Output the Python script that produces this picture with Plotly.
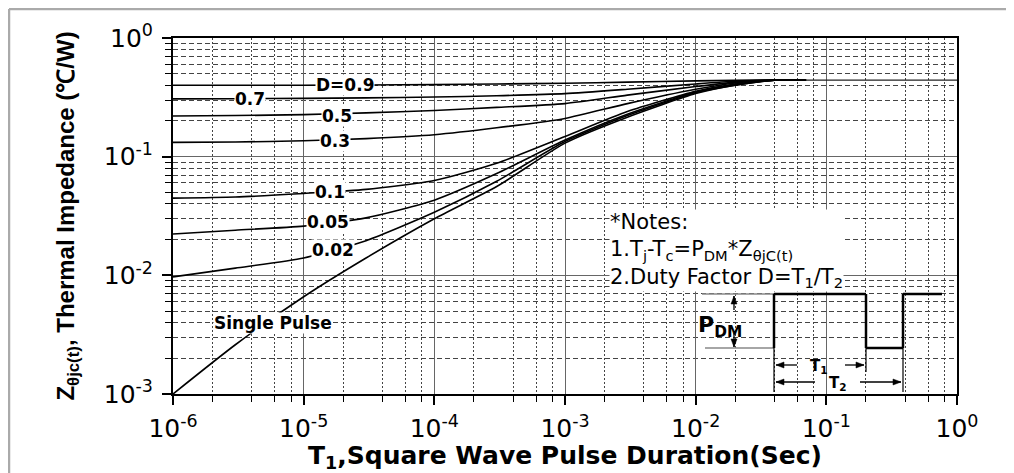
import plotly.graph_objects as go

# ---------------- data ----------------
T = [1e-6, 3e-6, 1e-5, 3e-5, 1e-4, 3e-4, 1e-3, 3e-3, 1e-2, 2e-2, 4e-2, 7e-2]
D09 = [0.400, 0.400, 0.400, 0.402, 0.405, 0.410, 0.415, 0.425, 0.435, 0.440, 0.442, 0.442]
D07 = [0.307, 0.308, 0.310, 0.313, 0.318, 0.326, 0.340, 0.370, 0.410, 0.432, 0.442, 0.442]
D05 = [0.220, 0.222, 0.226, 0.234, 0.245, 0.260, 0.280, 0.330, 0.390, 0.425, 0.442, 0.442]
D03 = [0.132, 0.133, 0.136, 0.142, 0.153, 0.175, 0.210, 0.280, 0.370, 0.418, 0.442, 0.442]
D01 = [0.0447, 0.0457, 0.049, 0.053, 0.063, 0.088, 0.148, 0.240, 0.355, 0.410, 0.440, 0.442]
D005 = [0.0223, 0.024, 0.026, 0.0305, 0.043, 0.072, 0.138, 0.228, 0.350, 0.405, 0.440, 0.442]
D002 = [0.0097, 0.0115, 0.014, 0.0196, 0.034, 0.062, 0.134, 0.222, 0.345, 0.400, 0.440, 0.442]
SINGLE = [0.001, 0.0026, 0.0066, 0.0140, 0.030, 0.056, 0.130, 0.215, 0.340, 0.400, 0.440, 0.442]
TAIL_T = [7e-2, 1.0]
TAIL_Z = [0.442, 0.442]

SERIES = [("D=0.9", D09), ("0.7", D07), ("0.5", D05), ("0.3", D03),
          ("0.1", D01), ("0.05", D005), ("0.02", D002), ("Single Pulse", SINGLE)]

X_TICKS = [1e-6, 1e-5, 1e-4, 1e-3, 1e-2, 1e-1, 1.0]
X_TICKTEXT = ["10<sup>-6</sup>", "10<sup>-5</sup>", "10<sup>-4</sup>", "10<sup>-3</sup>",
              "10<sup>-2</sup>", "10<sup>-1</sup>", "10<sup>0</sup>"]
Y_TICKS = [1e-3, 1e-2, 1e-1, 1.0]
Y_TICKTEXT = ["10<sup>-3</sup>", "10<sup>-2</sup>", "10<sup>-1</sup>", "10<sup>0</sup>"]
X_MINOR = [m * d for d in [1e-6, 1e-5, 1e-4, 1e-3, 1e-2, 1e-1] for m in (2, 4, 6, 8)]
Y_MINOR = [m * d for d in [1e-3, 1e-2, 1e-1] for m in range(2, 10)]

# ---------------- layout geometry (page pixels; page body has an 8px offset) ----------------
OFF = 8
PAGE_W, PAGE_H = 1014, 473
W, H = PAGE_W - OFF, PAGE_H - OFF
L, R, TOP, BOT = 173, 957, 38, 394   # plot area in page pixels


def px(x):
    return (x - L) / (R - L)


def py(y):
    return (BOT - y) / (BOT - TOP)


fig = go.Figure()
for name, vals in SERIES:
    fig.add_trace(go.Scatter(x=T, y=vals, mode="lines", name=name,
                             line=dict(color="black", width=1.6, shape="spline", smoothing=0.6),
                             showlegend=False, hoverinfo="skip"))
fig.add_trace(go.Scatter(x=TAIL_T, y=TAIL_Z, mode="lines", line=dict(color="#222", width=1.2),
                         showlegend=False, hoverinfo="skip"))

tickfont = dict(family="DejaVu Sans", size=25, color="black")

fig.update_layout(
    width=W, height=H,
    margin=dict(l=L - OFF, r=PAGE_W - R, t=TOP - OFF, b=PAGE_H - BOT, pad=0, autoexpand=False),
    paper_bgcolor="white", plot_bgcolor="white",
    showlegend=False,
    xaxis=dict(type="log", range=[-6, 0], tickmode="array", tickvals=X_TICKS, ticktext=X_TICKTEXT,
               automargin=False,
               ticks="outside", ticklen=9, tickwidth=1.5, tickcolor="black",
               showline=True, linewidth=2, linecolor="black", mirror=True, zeroline=False,
               showgrid=True, gridcolor="#666", gridwidth=1,
               minor=dict(tickvals=X_MINOR, ticks="outside", ticklen=6, tickwidth=1, tickcolor="black",
                          showgrid=True, gridcolor="#444", gridwidth=1, griddash="2px,2px"),
               tickfont=tickfont, ticklabelstandoff=2,
               title=dict(text="<b>T<sub>1</sub>,Square Wave Pulse Duration(Sec)</b>",
                          font=dict(family="DejaVu Sans", size=25, color="black"), standoff=8)),
    yaxis=dict(type="log", range=[-3, 0], tickmode="array", tickvals=Y_TICKS, ticktext=Y_TICKTEXT,
               automargin=False,
               ticks="outside", ticklen=9, tickwidth=1.5, tickcolor="black",
               showline=True, linewidth=2, linecolor="black", mirror=True, zeroline=False,
               showgrid=True, gridcolor="#666", gridwidth=1,
               minor=dict(tickvals=Y_MINOR, ticks="outside", ticklen=6, tickwidth=1, tickcolor="black",
                          showgrid=True, gridcolor="#444", gridwidth=1, griddash="5px,3px"),
               tickfont=tickfont, ticklabelstandoff=4,
               title=dict(text="<b>Z<sub>θjc(t)</sub>, Thermal Impedance (℃/W)</b>",
                          font=dict(family="Liberation Sans", size=24, color="black"), standoff=22)),
)

# curve labels
LABELS = [("D=0.9", 345, 85), ("0.7", 250, 99), ("0.5", 337, 116), ("0.3", 335, 141),
          ("0.1", 330, 192), ("0.05", 328, 222), ("0.02", 333, 250), ("Single Pulse", 273, 323)]
for txt, x, y in LABELS:
    fig.add_annotation(x=px(x), y=py(y), xref="paper", yref="paper", text="<b>%s</b>" % txt,
                       xanchor="center", yanchor="middle",
                       showarrow=False, bgcolor="white", borderpad=0,
                       font=dict(family="DejaVu Sans", size=17, color="black"))

# notes (one block, left aligned)
NOTES = ["*Notes:", "1.T<sub>j</sub>-T<sub>c</sub>=P<sub>DM</sub>*Z<sub>θjC(t)</sub>",
         "2.Duty Factor D=T<sub>1</sub>/T<sub>2</sub>"]
fig.add_annotation(x=px(609), y=py(250), xref="paper", yref="paper", text="<br>".join(NOTES),
                   xanchor="left", yanchor="middle", align="left", showarrow=False,
                   bgcolor="white", borderpad=0,
                   font=dict(family="DejaVu Sans", size=21, color="black"))


# duty-cycle waveform illustration
def seg(x0, y0, x1, y1, color="black", width=2.5):
    fig.add_shape(type="line", xref="paper", yref="paper", x0=px(x0), y0=py(y0), x1=px(x1), y1=py(y1),
                  line=dict(color=color, width=width))


def head(xh, yh, dx, dy):
    # filled arrow head with tip at (xh, yh), pointing along (dx, dy) (pixel units)
    n = (dx * dx + dy * dy) ** 0.5
    ux, uy = dx / n, dy / n
    bx, by = xh - 8 * ux, yh - 8 * uy
    p1 = (bx - 3 * uy, by + 3 * ux)
    p2 = (bx + 3 * uy, by - 3 * ux)
    path = "M %f,%f L %f,%f L %f,%f Z" % (px(xh), py(yh), px(p1[0]), py(p1[1]), px(p2[0]), py(p2[1]))
    fig.add_shape(type="path", xref="paper", yref="paper", path=path,
                  fillcolor="black", line=dict(color="black", width=0.5))


def arrow(xt, yt, xh, yh):
    seg(xt, yt, xh, yh, "black", 1.3)
    head(xh, yh, xh - xt, yh - yt)


seg(705, 348, 774, 348, "#888", 1.5)
seg(702, 294, 774, 294, "#888", 1.5)
seg(774, 348, 774, 294)
seg(774, 294, 866, 294)
seg(866, 294, 866, 348)
seg(866, 348, 903, 348)
seg(903, 348, 903, 294)
seg(903, 294, 942, 294)
seg(774, 348, 774, 392, "black", 1.2)
seg(866, 348, 866, 372, "black", 1.2)
seg(903, 348, 903, 392, "black", 1.2)

arrow(734, 310, 734, 296)
arrow(734, 333, 734, 347)
arrow(797, 365, 776, 365)
arrow(845, 365, 864, 365)
arrow(815, 382, 776, 382)
arrow(860, 382, 901, 382)

fig.add_annotation(x=px(720), y=py(326), xref="paper", yref="paper",
                   text="<b>P<sub>DM</sub></b>", showarrow=False, xanchor="center", yanchor="middle",
                   font=dict(family="DejaVu Sans", size=22, color="black"))
fig.add_annotation(x=px(819), y=py(366), xref="paper", yref="paper", text="<b>T<sub>1</sub></b>",
                   showarrow=False, xanchor="center", yanchor="middle",
                   font=dict(family="DejaVu Sans", size=15, color="black"))
fig.add_annotation(x=px(838), y=py(383), xref="paper", yref="paper", text="<b>T<sub>2</sub></b>",
                   showarrow=False, xanchor="center", yanchor="middle",
                   font=dict(family="DejaVu Sans", size=15, color="black"))

# page frame (top and left grey edges, kept just inside the figure)
fig.add_shape(type="line", xref="paper", yref="paper", x0=px(OFF + 1), y0=py(OFF + 1), x1=px(PAGE_W), y1=py(OFF + 1),
              line=dict(color="#aaa", width=2.5))
fig.add_shape(type="line", xref="paper", yref="paper", x0=px(OFF + 1), y0=py(OFF + 1), x1=px(OFF + 1), y1=py(PAGE_H),
              line=dict(color="#aaa", width=2.5))

fig.write_html("out.html")
